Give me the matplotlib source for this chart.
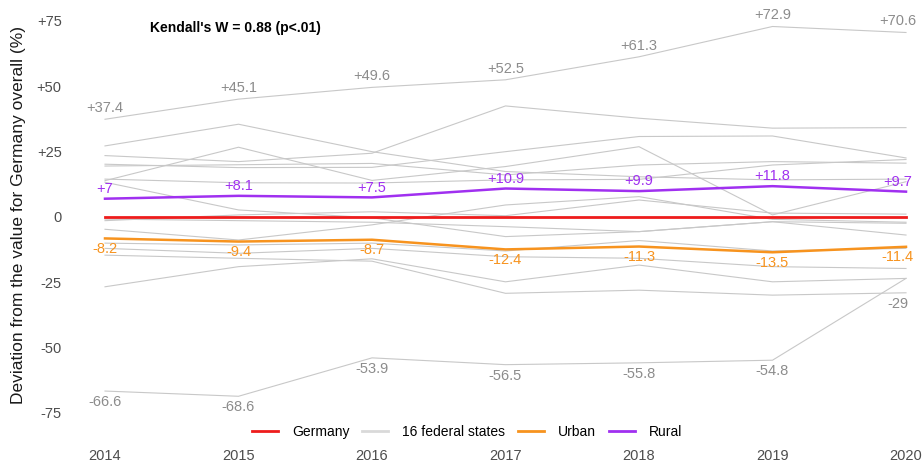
import numpy as np
import matplotlib.pyplot as plt

plt.rcParams['font.family'] = ['Liberation Sans', 'DejaVu Sans']

years = [2014, 2015, 2016, 2017, 2018, 2019, 2020]

germany = [0, 0, 0, 0, 0, 0, 0]
urban = [-8.2, -9.4, -8.7, -12.4, -11.3, -13.5, -11.4]
rural = [7.0, 8.1, 7.5, 10.9, 9.9, 11.8, 9.7]

# 16 federal states (approximate)
states = [
    [37.4, 45.1, 49.6, 52.5, 61.3, 72.9, 70.6],
    [-66.6, -68.6, -53.9, -56.5, -55.8, -54.8, -23.5],
    [27.2, 35.5, 25.0, 17.4, 15.4, 14.2, 14.5],
    [23.5, 21.2, 24.4, 42.5, 37.8, 34.0, 34.2],
    [13.9, 26.7, 14.0, 19.3, 26.9, 0.8, 13.5],
    [20.2, 18.9, 19.0, 25.0, 30.8, 31.0, 22.6],
    [19.5, 20.0, 20.5, 16.1, 19.9, 21.2, 20.6],
    [13.3, 2.7, -0.3, -7.5, -5.6, -1.8, -6.9],
    [14.5, 13.1, 13.0, 14.2, 14.4, 19.9, 22.0],
    [-1.4, 0.8, 2.0, 0.5, 6.5, 1.5, 1.1],
    [-0.8, -1.4, -2.0, -3.7, -5.6, -1.8, -2.4],
    [-4.7, -8.8, -3.0, 4.6, 7.8, -0.9, -2.0],
    [-10.0, -10.7, -10.0, -13.0, -9.0, -13.0, -12.0],
    [-12.0, -13.9, -12.0, -15.2, -15.8, -19.0, -19.7],
    [-14.6, -15.8, -16.9, -29.2, -28.0, -29.9, -29.0],
    [-26.7, -19.0, -16.0, -24.8, -18.4, -24.8, -23.5],
]

top_labels = ['+37.4', '+45.1', '+49.6', '+52.5', '+61.3', '+72.9', '+70.6']
bottom_labels = ['-66.6', '-68.6', '-53.9', '-56.5', '-55.8', '-54.8', '-29']
rural_labels = ['+7', '+8.1', '+7.5', '+10.9', '+9.9', '+11.8', '+9.7']
urban_labels = ['-8.2', '-9.4', '-8.7', '-12.4', '-11.3', '-13.5', '-11.4']

yticks = [75, 50, 25, 0, -25, -50, -75]
ytick_labels = ['+75', '+50', '+25', '0', '-25', '-50', '-75']

c_red = '#ee1c1c'
c_grey = '#c8c8c8'
c_orange = '#f7931e'
c_purple = '#a030f0'
c_text = '#4d4d4d'
c_lab = '#8c8c8c'

W, H = 923, 463
fig = plt.figure(figsize=(W / 100, H / 100), dpi=100)
left, right, top, bottom = 70, 915, 10, 420
ax = fig.add_axes([left / W, 1 - bottom / H, (right - left) / W, (bottom - top) / H])

pxx = (906 - 105) / 6
pxy = 196 / 75
ax.set_xlim(2014 - (105 - left) / pxx, 2020 + (right - 906) / pxx)
ax.set_ylim(-75 - (bottom - 413) / pxy, 75 + (21 - top) / pxy)

for s in states:
    ax.plot(years, s, color=c_grey, lw=0.8, zorder=1)
ax.plot(years, germany, color=c_red, lw=2.0, zorder=3)
ax.plot(years, urban, color=c_orange, lw=1.8, zorder=3)
ax.plot(years, rural, color=c_purple, lw=1.8, zorder=3)

st = np.array(states)
smax = st.max(axis=0)
smin = st.min(axis=0)
for i, yr in enumerate(years):
    dx = -6 if i == 6 else 0  # keep the last labels inside the picture
    ax.annotate(top_labels[i], (yr, smax[i]), xytext=(dx, 8), textcoords='offset points',
                ha='center', va='center', color=c_lab, fontsize=10.5)
    ax.annotate(bottom_labels[i], (yr, -29 if i == 6 else smin[i]), xytext=(dx, -8),
                textcoords='offset points', ha='center', va='center', color=c_lab, fontsize=10.5)
    ax.annotate(rural_labels[i], (yr, rural[i]), xytext=(dx, 7), textcoords='offset points',
                ha='center', va='center', color=c_purple, fontsize=10.5)
    ax.annotate(urban_labels[i], (yr, urban[i]), xytext=(dx, -7.5), textcoords='offset points',
                ha='center', va='center', color=c_orange, fontsize=10.5)

ax.set_yticks(yticks)
ax.set_yticklabels(ytick_labels)
ax.set_xticks(years)
ax.set_xticklabels([str(y) for y in years])
ax.tick_params(axis='y', length=0, pad=6, labelsize=10.5, labelcolor=c_text)
ax.tick_params(axis='x', length=0, pad=21, labelsize=10.5, labelcolor=c_text)
for sp in ax.spines.values():
    sp.set_visible(False)

ax.set_ylabel('Deviation from the value for Germany overall (%)', fontsize=12.5,
              color='#1a1a1a', labelpad=8)

fig.text(150 / W, 1 - 28 / H, "Kendall's W = 0.88 (p<.01)", ha='left', va='center',
         fontsize=10, fontweight='bold', color='black')

handles = [
    plt.Line2D([], [], color=c_red, lw=2),
    plt.Line2D([], [], color='#d9d9d9', lw=2),
    plt.Line2D([], [], color=c_orange, lw=2),
    plt.Line2D([], [], color=c_purple, lw=2),
]
fig.legend(handles, ['Germany', '16 federal states', 'Urban', 'Rural'], loc='center',
           bbox_to_anchor=(467 / W, 1 - 432 / H), ncol=4, frameon=False, fontsize=10,
           handlelength=1.9, handletextpad=1.0, columnspacing=0.9)

fig.savefig('out.png', dpi=100)
